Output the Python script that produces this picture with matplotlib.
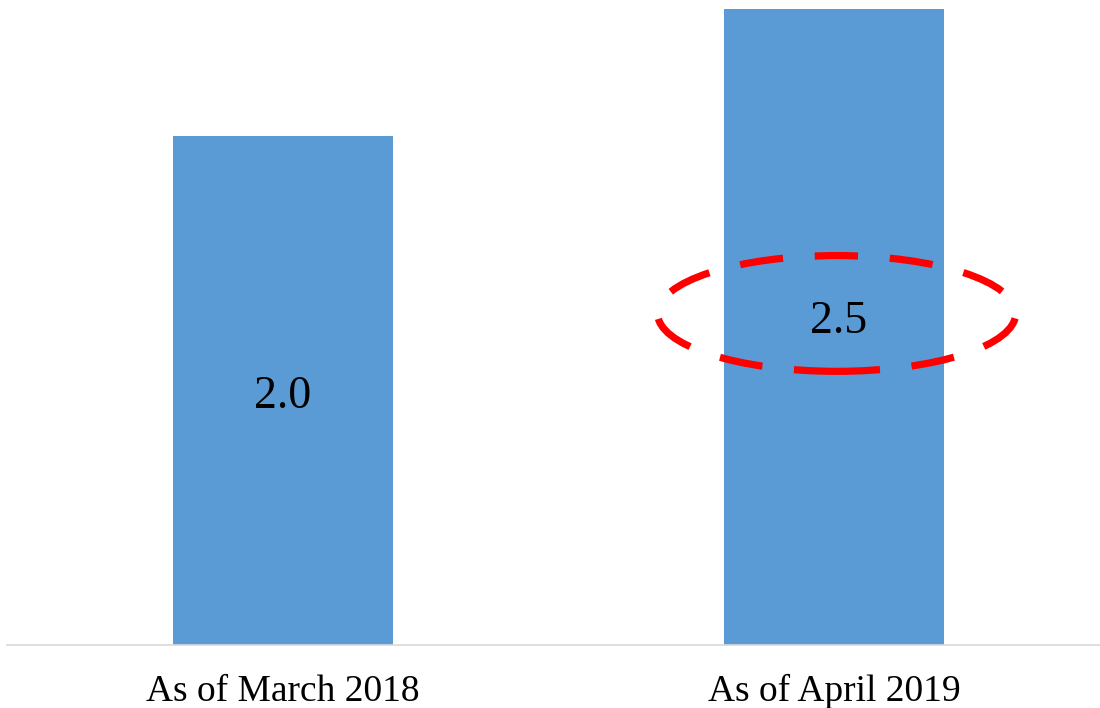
import matplotlib
matplotlib.use("Agg")
import matplotlib.pyplot as plt
from matplotlib.patches import Ellipse

categories = ["As of March 2018", "As of April 2019"]
values = [2.0, 2.5]
value_labels = ["2.0", "2.5"]

W, H = 1100, 708
fig = plt.figure(figsize=(W / 100, H / 100), dpi=100)
ax_left, ax_bottom = 7 / W, 63 / H
ax = fig.add_axes([ax_left, ax_bottom, 1 - ax_left, 1 - ax_bottom])

x = list(range(len(categories)))
ax.bar(x, values, width=0.4, color="#5B9BD5", zorder=2)
ax.set_xlim(-0.501, 1.483)
ax.set_ylim(0, 2.535)

for s in ["top", "right", "left"]:
    ax.spines[s].set_visible(False)
ax.spines["bottom"].set_color("#D9D9D9")
ax.spines["bottom"].set_linewidth(1.2)
ax.set_yticks([])
ax.set_xticks(x)
ax.set_xticklabels(categories, fontsize=27, family="Liberation Serif")
ax.tick_params(axis="x", length=0, pad=21)

# value labels
ax.text(x[0], 0.975, value_labels[0], ha="center", va="center",
        fontsize=33, family="Liberation Serif", zorder=3)
ax.text(x[1] + 0.008, 1.27, value_labels[1], ha="center", va="center",
        fontsize=33, family="Liberation Serif", zorder=3)

# red dashed highlight ellipse
ell = Ellipse((x[1] + 0.005, 1.303), width=0.65, height=0.455,
              fill=False, edgecolor="#FF0000", linewidth=5.2,
              linestyle=(0, (6, 4.4)), zorder=4, clip_on=False)
ax.add_patch(ell)

fig.savefig("out.png", dpi=100)
